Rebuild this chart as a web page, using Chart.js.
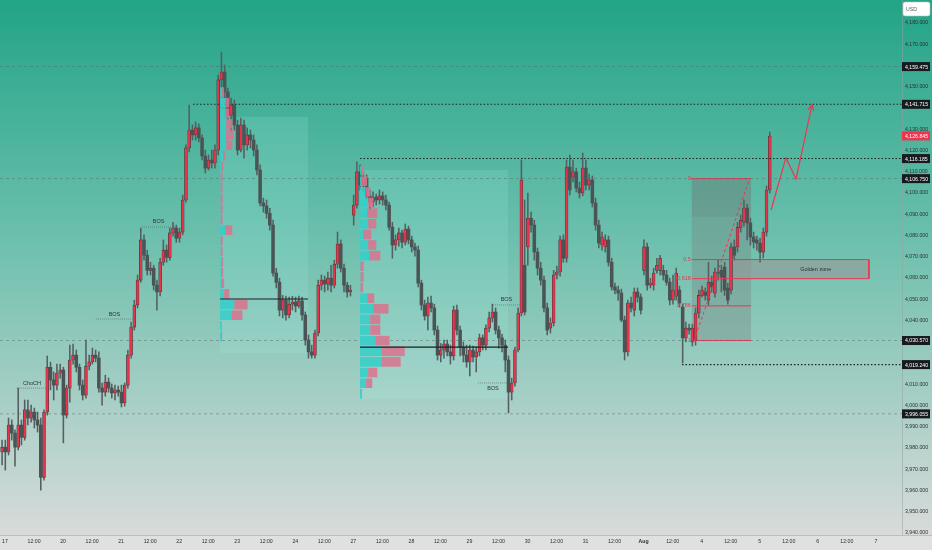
<!DOCTYPE html>
<html>
<head>
<meta charset="utf-8">
<script src="https://cdn.jsdelivr.net/npm/chart.js@4.4.1/dist/chart.umd.min.js"></script>
<style>
  html, body { margin: 0; padding: 0; background: #dcdede; }
  #wrap { width: 932px; height: 550px; }
</style>
</head>
<body>
<div id="wrap"><canvas id="chart" width="932" height="550"></canvas></div>
<script>
// ..........................................   DATA   ..........................................

// time axis: one tick every half day
const timeLabels = ['17', '12:00', '20', '12:00', '21', '12:00', '22', '12:00', '23', '12:00', '24', '12:00',
    '27', '12:00', '28', '12:00', '29', '12:00', '30', '12:00', '31', '12:00', 'Aug', '12:00',
    '4', '12:00', '5', '12:00', '6', '12:00', '7'];
const candleStart = -0.1;     // first candle, in half-day units
const candlesPerHalfDay = 9;

const opens = [3978.1,3980.4,3978.1,3990.8,3987.0,3980.4,3990.8,3985.0,3997.9,3994.1,3996.9,3993.2,3990.8,3966.2,3996.9,4018.0,4012.0,4009.6,4015.3,4016.7,
    3995.5,4008.2,4021.4,4023.7,4018.0,4009.6,4004.9,4018.5,4020.5,4023.7,4022.3,4008.2,4006.3,4011.0,4008.2,4005.9,4007.3,4006.3,4001.2,4009.6,
    4023.7,4036.9,4047.3,4059.0,4077.9,4070.7,4063.6,4064.6,4056.6,4053.4,4067.4,4073.1,4069.7,4081.2,4083.5,4078.7,4081.6,4096.7,4121.2,4129.6,
    4127.3,4130.6,4125.9,4117.4,4111.7,4115.5,4114.1,4120.2,4153.2,4156.9,4147.5,4136.7,4141.4,4132.0,4120.2,4132.0,4122.6,4127.3,4124.9,4120.2,
    4110.8,4095.3,4093.9,4090.4,4084.9,4062.3,4058.0,4044.9,4049.6,4042.6,4047.7,4048.7,4046.8,4049.2,4042.6,4030.8,4025.2,4023.7,4034.1,4056.6,
    4059.0,4057.1,4059.9,4056.6,4066.5,4076.0,4064.6,4056.6,4053.4,4089.6,4094.3,4109.9,4103.7,4107.0,4098.6,4095.7,4098.1,4096.7,4098.6,4096.7,
    4094.3,4083.9,4075.5,4077.9,4081.2,4076.8,4083.0,4077.9,4074.6,4073.1,4057.6,4047.3,4042.1,4048.2,4045.9,4035.5,4023.7,4026.1,4028.9,4025.2,
    4023.3,4044.9,4035.5,4027.5,4023.7,4020.5,4026.1,4022.8,4025.2,4031.8,4028.4,4036.4,4041.2,4044.0,4035.5,4031.8,4028.4,4021.4,4006.3,4010.6,
    4026.1,4043.5,4066.0,4074.6,4088.1,4084.9,4072.2,4064.6,4059.0,4045.9,4036.4,4038.8,4061.4,4062.8,4077.9,4069.3,4112.2,4107.5,4109.9,4102.3,
    4100.0,4111.7,4103.7,4106.1,4095.3,4084.9,4075.5,4074.6,4077.9,4067.4,4055.8,4054.3,4052.9,4040.2,4025.2,4048.2,4044.9,4053.4,4051.0,4063.6,
    4074.6,4056.6,4056.6,4063.6,4063.6,4063.6,4061.4,4058.0,4049.6,4051.4,4054.3,4046.3,4031.8,4036.4,4029.9,4030.8,4043.5,4051.8,4053.4,4049.6,
    4058.0,4052.9,4062.8,4063.6,4065.1,4055.3,4054.3,4074.6,4074.6,4083.5,4086.3,4092.9,4085.9,4079.3,4077.9,4076.4,4072.2,4081.6,4101.4];
const highs = [3983.7,3983.7,3994.1,3993.2,3988.5,4008.2,3993.2,4002.6,4002.6,4000.2,3998.8,3996.9,3994.1,3997.9,4023.3,4020.4,4015.8,4019.5,4019.5,4018.0,
    4009.6,4028.4,4028.9,4026.1,4019.5,4012.0,4030.8,4023.7,4027.0,4026.1,4025.2,4010.6,4014.3,4012.9,4010.1,4009.6,4009.1,4009.6,4010.6,4026.1,
    4039.3,4049.6,4061.4,4083.5,4080.3,4073.1,4067.4,4066.0,4059.0,4069.3,4077.9,4075.5,4083.5,4086.2,4084.9,4083.5,4099.0,4122.6,4141.4,4132.0,
    4133.4,4132.5,4127.3,4120.2,4117.9,4120.2,4122.6,4155.5,4166.3,4160.2,4149.4,4144.7,4143.7,4134.3,4135.2,4134.3,4130.6,4129.6,4127.3,4122.6,
    4113.2,4097.6,4096.7,4092.8,4087.2,4064.6,4059.9,4051.8,4051.5,4051.0,4051.4,4051.0,4051.5,4051.0,4044.0,4033.2,4028.4,4035.5,4059.0,4061.4,
    4060.9,4062.8,4066.0,4068.4,4081.6,4077.9,4066.5,4058.0,4056.6,4099.0,4114.6,4113.2,4109.9,4108.5,4101.4,4100.5,4099.5,4101.4,4100.5,4099.0,
    4095.7,4086.2,4080.3,4083.5,4082.5,4085.4,4084.4,4079.7,4076.4,4075.0,4059.0,4049.6,4051.0,4051.5,4047.7,4037.4,4029.2,4030.8,4030.8,4028.4,
    4046.8,4047.3,4037.4,4029.9,4028.4,4028.4,4028.0,4027.5,4033.6,4033.2,4037.9,4044.0,4047.7,4045.9,4037.4,4033.6,4030.8,4023.3,4012.9,4027.5,
    4045.9,4115.5,4096.7,4100.0,4091.0,4087.2,4074.1,4067.4,4060.9,4048.2,4041.2,4063.6,4065.6,4079.7,4080.3,4115.5,4117.9,4115.5,4111.7,4105.2,
    4118.8,4115.5,4108.9,4108.0,4097.6,4087.2,4081.6,4080.3,4079.7,4069.3,4057.6,4056.2,4054.8,4042.1,4049.6,4051.0,4055.3,4055.3,4052.5,4077.9,
    4076.4,4059.9,4064.6,4069.3,4070.7,4066.0,4063.6,4059.9,4061.4,4064.6,4056.2,4047.7,4039.3,4038.3,4038.3,4045.9,4054.3,4056.2,4055.3,4067.4,
    4060.9,4064.6,4068.4,4066.0,4067.4,4057.6,4076.4,4077.9,4086.2,4089.6,4096.7,4094.8,4088.2,4081.6,4079.7,4078.8,4083.5,4103.3,4128.7];
const lows = [3972.0,3969.6,3976.7,3983.7,3971.5,3979.1,3981.4,3983.7,3990.8,3992.2,3989.4,3987.5,3960.2,3964.9,3995.5,4007.3,4002.6,4007.3,4012.9,3982.4,
    3994.1,4001.6,4019.5,4015.8,4007.3,4002.6,4003.5,4016.7,4019.5,4020.5,4006.3,4000.2,4004.4,4006.3,4003.5,4002.6,4004.4,3999.3,3999.7,4008.2,
    4022.3,4035.5,4045.9,4058.0,4068.4,4061.4,4061.4,4054.3,4044.9,4051.5,4066.0,4067.4,4068.4,4079.7,4076.8,4076.8,4080.3,4095.7,4119.3,4124.9,
    4124.9,4124.0,4115.5,4109.4,4110.8,4111.7,4111.7,4117.9,4147.5,4144.7,4134.3,4128.7,4129.6,4117.9,4119.3,4116.4,4120.2,4121.2,4117.4,4108.5,
    4093.9,4091.0,4088.1,4082.5,4060.9,4055.3,4042.1,4041.2,4040.2,4041.2,4044.9,4044.0,4045.9,4040.2,4028.4,4022.3,4022.3,4022.3,4032.7,4054.3,
    4053.4,4054.3,4053.4,4055.3,4064.6,4062.8,4053.4,4051.0,4051.5,4084.9,4092.8,4101.4,4100.5,4096.7,4092.0,4093.4,4094.3,4094.8,4094.3,4092.0,
    4082.5,4069.3,4073.1,4075.0,4074.1,4075.5,4076.0,4072.2,4070.3,4055.8,4044.9,4040.2,4035.5,4044.0,4033.2,4021.4,4020.5,4022.3,4023.3,4019.5,
    4021.4,4033.2,4023.3,4020.5,4018.0,4013.9,4020.5,4015.8,4023.3,4026.1,4026.1,4034.6,4039.3,4033.6,4027.0,4025.2,4015.8,3996.5,4002.6,4009.1,
    4025.2,4042.1,4042.6,4066.0,4081.6,4068.4,4061.4,4056.6,4044.0,4033.2,4034.1,4037.4,4059.5,4060.9,4067.4,4067.4,4099.0,4105.2,4100.5,4097.6,
    4098.6,4101.4,4101.4,4093.4,4082.5,4074.1,4073.1,4072.2,4065.6,4054.3,4052.5,4049.6,4039.4,4021.4,4023.3,4044.0,4042.1,4048.7,4043.0,4061.4,
    4054.3,4055.3,4054.3,4062.3,4061.4,4059.0,4056.6,4047.3,4047.7,4049.6,4046.3,4020.0,4029.9,4033.6,4028.0,4028.4,4041.2,4051.0,4049.6,4047.3,
    4053.4,4051.0,4059.0,4053.4,4051.8,4047.7,4052.5,4068.4,4072.2,4081.6,4084.4,4077.9,4075.5,4074.1,4073.1,4067.4,4069.4,4079.7,4100.0];
const closes = [3980.4,3978.1,3990.8,3987.0,3980.4,3990.8,3985.0,3997.9,3994.1,3996.9,3993.2,3990.8,3966.2,3996.9,4018.0,4012.0,4009.6,4015.3,4016.7,3995.5,
    4008.2,4021.4,4023.7,4018.0,4009.6,4004.9,4018.5,4020.5,4023.7,4022.3,4008.2,4006.3,4011.0,4008.2,4005.9,4007.3,4006.3,4001.2,4009.6,4023.7,
    4036.9,4047.3,4059.0,4077.9,4070.7,4063.6,4064.6,4056.6,4053.4,4067.4,4073.1,4069.7,4081.2,4083.5,4078.7,4081.6,4096.7,4121.2,4129.6,4127.3,
    4130.6,4125.9,4117.4,4111.7,4115.5,4114.1,4120.2,4153.2,4156.9,4147.5,4136.7,4141.4,4132.0,4120.2,4132.0,4122.6,4127.3,4124.9,4120.2,4110.8,
    4095.3,4093.9,4090.4,4084.9,4062.3,4058.0,4044.9,4049.6,4042.6,4047.7,4048.7,4046.8,4049.2,4042.6,4030.8,4025.2,4023.7,4034.1,4056.6,4059.0,
    4057.1,4059.9,4056.6,4066.5,4076.0,4064.6,4056.6,4053.4,4054.3,4094.3,4109.9,4103.7,4107.0,4098.6,4095.7,4098.1,4096.7,4098.6,4096.7,4094.3,
    4083.9,4075.5,4077.9,4081.2,4076.8,4083.0,4077.9,4074.6,4073.1,4057.6,4047.3,4042.1,4048.2,4045.9,4035.5,4023.7,4026.1,4028.9,4025.2,4023.3,
    4044.9,4035.5,4027.5,4023.7,4020.5,4026.1,4022.8,4025.2,4031.8,4028.4,4036.4,4041.2,4044.0,4035.5,4031.8,4028.4,4021.4,4006.3,4010.6,4026.1,
    4043.5,4106.1,4044.0,4088.1,4084.9,4072.2,4064.6,4059.0,4045.9,4035.5,4038.8,4061.4,4062.8,4077.9,4069.3,4112.2,4101.4,4109.9,4102.3,4100.0,
    4111.7,4103.7,4106.1,4095.3,4084.9,4076.4,4079.3,4077.9,4067.4,4055.8,4054.3,4052.9,4040.2,4025.2,4048.2,4045.9,4053.4,4051.0,4044.9,4074.6,
    4056.6,4057.6,4062.3,4066.0,4069.3,4061.4,4058.0,4049.6,4054.3,4062.3,4048.2,4031.8,4036.4,4035.5,4036.4,4043.5,4051.8,4054.3,4051.8,4058.0,
    4055.8,4062.8,4062.3,4060.4,4054.3,4049.6,4074.6,4070.7,4083.9,4087.2,4092.9,4085.9,4079.3,4076.9,4076.4,4072.2,4081.6,4101.4,4126.8];

// price scale
const priceTicks = [4180, 4170, 4150, 4130, 4120, 4110, 4100, 4090, 4080, 4070, 4060, 4050, 4040,
    4010, 4000, 3990, 3980, 3970, 3960, 3950, 3940];
const markedPrices = [4159.475, 4141.715, 4116.185, 4106.750, 4030.570, 4019.240, 3996.055];
const lastPrice = 4126.845;

// horizontal levels
const dashedLevels = [4159.475, 4106.75, 4030.57, 3996.055];
const dottedLevels = [4141.715, 4116.185, 4019.24];
const dottedStarts = [6.48, 12.23, 23.32];

// structure labels (BOS / ChoCH)
const structTexts = ['ChoCH', 'BOS', 'BOS', 'BOS', 'BOS'];
const structPrices = [4008.2, 4040.7, 4084.0, 4047.3, 4010.6];
const structFrom = [0.41, 3.13, 4.72, 16.81, 16.29];
const structTo = [1.45, 4.41, 5.86, 17.74, 17.33];
const structBelow = [false, false, false, false, true];

// volume profiles
const volumeScale = 0.035;   // half-days per volume unit
const profile1Low = 4030, profile1Step = 5;
const profile1Up   = [1, 1, 11, 14, 4, 1, 1, 1, 0.5, 0.5, 5, 0.5, 0.5, 0.5, 0.5, 0.5, 1, 3, 6, 6, 6, 5, 5, 2];
const profile1Down = [1, 0.5, 11, 13, 5, 3, 2, 2, 2, 2, 7, 2, 2, 2, 2, 2, 2, 2, 6, 7, 6, 4, 4, 2];
const profile1Span = [7.41, 10.44];
const profile1Box = [4024.7, 4135.8];
const profile1Poc = 4050.1;
const profile2Low = 4003, profile2Step = 5;
const profile2Up   = [2, 6, 8, 21, 21, 15, 10, 10, 13, 7, 0.5, 0.5, 0.5, 9, 8, 3, 8, 7, 8, 5, 2, 1];
const profile2Down = [0, 6, 9, 19, 23, 14, 10, 10, 15, 7, 2.5, 3, 3, 11, 8, 8, 8, 10, 5, 5, 5, 3];
const profile2Span = [12.23, 17.33];
const profile2Box = [4003.0, 4110.8];
const profile2Poc = 4027.5;

// fibonacci retracement
const fibLevels = [0, 0.5, 0.618, 0.786, 1];
const fibHigh = 4106.75, fibLow = 4030.57;
const fibSpan = [23.66, 25.70];
const goldenSpan = [25.04, 29.76];

// projected path
const projX = [26.39, 26.90, 27.25, 27.80];
const projY = [4092.0, 4116.5, 4106.6, 4141.4];

// ..........................................   CHART   ..........................................

const X_MIN = -0.172, X_MAX = 30.9;
const candleX = opens.map((o, i) => candleStart + i / candlesPerHalfDay);
const fibPrice = l => fibHigh - l * (fibHigh - fibLow);
const fmt = v => v.toLocaleString('en-US', { minimumFractionDigits: 3, maximumFractionDigits: 3 });
const RED = '#ef3450';
const SMALL = "'Liberation Sans', Arial, sans-serif";

function hLine(y, x0, x1, color, dash, width) {
    return {
        type: 'line', data: [{ x: x0, y: y }, { x: x1, y: y }],
        borderColor: color, borderDash: dash, borderWidth: width,
        pointRadius: 0, order: 0
    };
}

const lineSets = [];
dashedLevels.forEach(v => lineSets.push(hLine(v, X_MIN, X_MAX, 'rgba(85,100,100,0.55)', [3, 3], 0.8)));
dottedLevels.forEach((v, i) => lineSets.push(hLine(v, dottedStarts[i], X_MAX, '#1d2323', [1.5, 2], 1.1)));
structPrices.forEach((v, i) => lineSets.push(hLine(v, structFrom[i], structTo[i], 'rgba(70,80,80,0.7)', [1, 1], 0.7)));
fibLevels.forEach(l => lineSets.push(hLine(fibPrice(l), fibSpan[0], fibSpan[1], RED, [], 1)));
// golden zone borders
lineSets.push(hLine(fibPrice(0.5), fibSpan[1], goldenSpan[1], RED, [], 1));
lineSets.push(hLine(fibPrice(0.618), fibSpan[1], goldenSpan[1], RED, [], 1));
lineSets.push({
    type: 'line', data: [{ x: goldenSpan[1], y: fibPrice(0.5) }, { x: goldenSpan[1], y: fibPrice(0.618) }],
    borderColor: RED, borderWidth: 1, pointRadius: 0, order: 0
});
// fib trend line
lineSets.push({
    type: 'line', data: [{ x: fibSpan[0] + 0.08, y: fibLow }, { x: fibSpan[1] - 0.05, y: fibHigh }],
    borderColor: RED, borderDash: [3, 2.5], borderWidth: 1, pointRadius: 0, order: 0
});
// projection
lineSets.push({
    type: 'line', data: projX.map((x, i) => ({ x: x, y: projY[i] })),
    borderColor: RED, borderWidth: 1.2, pointRadius: 0, order: 0
});

const backdrop = {
    id: 'backdrop',
    beforeDraw(chart) {
        const ctx = chart.ctx, h = chart.chartArea.bottom;
        const g = ctx.createLinearGradient(0, 0, 0, h);
        g.addColorStop(0, '#22a487');
        g.addColorStop(0.45, '#6dc0ad');
        g.addColorStop(1, '#d8dbda');
        ctx.save();
        ctx.fillStyle = g;
        ctx.fillRect(0, 0, chart.width, h);
        ctx.fillStyle = '#dfe1e0';
        ctx.fillRect(0, h, chart.width, chart.height - h);
        ctx.fillStyle = 'rgba(150,160,160,0.5)';
        ctx.fillRect(0, h, chart.width, 1);
        ctx.fillRect(chart.chartArea.right, 0, 1, h);
        ctx.restore();
    }
};

function drawProfileBox(ctx, xs, ys, span, box) {
    const left = xs.getPixelForValue(span[0]);
    const bt = ys.getPixelForValue(box[1]), bb = ys.getPixelForValue(box[0]);
    ctx.fillStyle = 'rgba(170,240,235,0.16)';
    ctx.fillRect(left, bt, xs.getPixelForValue(span[1]) - left, bb - bt);
}

function drawProfileRows(ctx, xs, ys, low, step, up, down, span, poc) {
    const left = xs.getPixelForValue(span[0]);
    up.forEach((u, k) => {
        const yt = ys.getPixelForValue(low + (k + 1) * step);
        const yb = ys.getPixelForValue(low + k * step);
        const x1 = xs.getPixelForValue(span[0] + u * volumeScale);
        const x2 = xs.getPixelForValue(span[0] + (u + down[k]) * volumeScale);
        ctx.fillStyle = 'rgba(52,206,200,0.88)';
        ctx.fillRect(left, yt + 0.5, x1 - left, yb - yt - 1);
        ctx.fillStyle = 'rgba(216,116,142,0.88)';
        ctx.fillRect(x1, yt + 0.5, x2 - x1, yb - yt - 1);
    });
    // point of control
    const py = ys.getPixelForValue(poc);
    ctx.strokeStyle = '#1a1f1f';
    ctx.lineWidth = 1.2;
    ctx.beginPath();
    ctx.moveTo(left, py);
    ctx.lineTo(xs.getPixelForValue(span[1]), py);
    ctx.stroke();
}

const overlays = {
    id: 'overlays',
    beforeDatasetsDraw(chart) {
        const ctx = chart.ctx, xs = chart.scales.x, ys = chart.scales.y;
        ctx.save();
        drawProfileBox(ctx, xs, ys, profile1Span, profile1Box);
        drawProfileBox(ctx, xs, ys, profile2Span, profile2Box);
        // fib box
        const fx0 = xs.getPixelForValue(fibSpan[0]), fx1 = xs.getPixelForValue(fibSpan[1]);
        const ft = ys.getPixelForValue(fibHigh), fb = ys.getPixelForValue(fibLow);
        ctx.fillStyle = 'rgba(120,125,125,0.33)';
        ctx.fillRect(fx0, ft, fx1 - fx0, fb - ft);
        ctx.fillStyle = 'rgba(90,95,95,0.12)';
        ctx.fillRect(fx0, ft, fx1 - fx0, ys.getPixelForValue(fibPrice(0.236)) - ft);
        // golden zone
        const gx0 = xs.getPixelForValue(goldenSpan[0]), gx1 = xs.getPixelForValue(goldenSpan[1]);
        const gt = ys.getPixelForValue(fibPrice(0.5)), gb = ys.getPixelForValue(fibPrice(0.618));
        ctx.fillStyle = 'rgba(150,152,152,0.6)';
        ctx.fillRect(gx0, gt, gx1 - gx0, gb - gt);
        ctx.restore();
    },
    afterDatasetsDraw(chart) {
        const ctx = chart.ctx, xs = chart.scales.x, ys = chart.scales.y;
        ctx.save();
        drawProfileRows(ctx, xs, ys, profile1Low, profile1Step, profile1Up, profile1Down, profile1Span, profile1Poc);
        drawProfileRows(ctx, xs, ys, profile2Low, profile2Step, profile2Up, profile2Down, profile2Span, profile2Poc);
        // golden zone text
        ctx.font = '5.5px ' + SMALL;
        ctx.fillStyle = '#2a2f2f';
        ctx.textAlign = 'center';
        ctx.textBaseline = 'middle';
        ctx.fillText('Golden zone', xs.getPixelForValue((fibSpan[1] + goldenSpan[1]) / 2 + 0.2),
            ys.getPixelForValue((fibPrice(0.5) + fibPrice(0.618)) / 2));
        // fib level labels
        ctx.fillStyle = RED;
        ctx.textAlign = 'right';
        fibLevels.forEach(l => ctx.fillText(String(l), xs.getPixelForValue(fibSpan[0]) - 1, ys.getPixelForValue(fibPrice(l))));
        // structure labels
        ctx.fillStyle = '#2f3535';
        ctx.textAlign = 'center';
        structTexts.forEach((t, i) => {
            const x = xs.getPixelForValue((structFrom[i] + structTo[i]) / 2);
            const y = ys.getPixelForValue(structPrices[i]);
            ctx.fillText(t, x, structBelow[i] ? y + 6 : y - 5);
        });
        // arrow head on projection
        const n = projX.length;
        const ax = xs.getPixelForValue(projX[n - 1]), ay = ys.getPixelForValue(projY[n - 1]);
        const bx = xs.getPixelForValue(projX[n - 2]), by = ys.getPixelForValue(projY[n - 2]);
        const ang = Math.atan2(ay - by, ax - bx);
        ctx.strokeStyle = RED;
        ctx.lineWidth = 1.2;
        ctx.beginPath();
        ctx.moveTo(ax - 6 * Math.cos(ang - 0.5), ay - 6 * Math.sin(ang - 0.5));
        ctx.lineTo(ax, ay);
        ctx.lineTo(ax - 6 * Math.cos(ang + 0.5), ay - 6 * Math.sin(ang + 0.5));
        ctx.stroke();
        ctx.restore();
    },
    afterDraw(chart) {
        const ctx = chart.ctx, ys = chart.scales.y, right = chart.chartArea.right;
        ctx.save();
        ctx.font = '5.2px ' + SMALL;
        ctx.textBaseline = 'middle';
        ctx.textAlign = 'left';
        const tag = (v, bg) => {
            const y = ys.getPixelForValue(v);
            ctx.fillStyle = bg;
            ctx.fillRect(right, y - 4.5, chart.width - right - 2, 9);
            ctx.fillStyle = '#ffffff';
            ctx.fillText(fmt(v), right + 3, y + 0.5);
        };
        markedPrices.forEach(v => tag(v, '#171b1f'));
        tag(lastPrice, RED);
        // currency box
        ctx.fillStyle = '#ffffff';
        ctx.strokeStyle = '#b9bfbf';
        ctx.lineWidth = 0.6;
        ctx.beginPath();
        ctx.roundRect(right + 1, 2, chart.width - right - 3, 14, 2);
        ctx.fill();
        ctx.stroke();
        ctx.fillStyle = '#555c5c';
        ctx.fillText('USD', right + 4, 9.5);
        ctx.restore();
    }
};

new Chart(document.getElementById('chart'), {
    type: 'bar',
    data: {
        datasets: [
            ...lineSets,
            {
                label: 'bodies',
                data: candleX.map((x, i) => ({ x: x, y: [opens[i], closes[i]] })),
                backgroundColor: c => closes[c.dataIndex] >= opens[c.dataIndex] ? '#e8334b' : '#4b5455',
                borderColor: '#353c3c',
                borderWidth: c => closes[c.dataIndex] >= opens[c.dataIndex] ? 0.6 : 0,
                borderSkipped: false,
                barThickness: 2.9,
                grouped: false,
                order: 1
            },
            {
                label: 'wicks',
                data: candleX.map((x, i) => ({ x: x, y: [lows[i], highs[i]] })),
                backgroundColor: '#555e60',
                barThickness: 0.9,
                grouped: false,
                order: 2
            }
        ]
    },
    options: {
        responsive: false,
        animation: false,
        events: [],
        layout: { padding: 0 },
        plugins: { legend: { display: false }, tooltip: { enabled: false } },
        scales: {
            x: {
                type: 'linear',
                min: X_MIN,
                max: X_MAX,
                offset: false,
                grid: { display: false, drawTicks: false, tickLength: 0 },
                border: { display: false },
                afterBuildTicks: s => { s.ticks = timeLabels.map((l, i) => ({ value: i })); },
                afterFit: s => { s.height = 15; s.paddingLeft = 0; s.paddingRight = 0; },
                ticks: {
                    autoSkip: false,
                    maxRotation: 0,
                    padding: 3,
                    color: '#2b3030',
                    font: c => ({ family: SMALL, size: 5.2, weight: timeLabels[c.index] === 'Aug' ? 'bold' : 'normal' }),
                    callback: v => timeLabels[v]
                }
            },
            y: {
                position: 'right',
                min: 3939.06,
                max: 4190.8,
                grid: { display: false, drawTicks: false, tickLength: 0 },
                border: { display: false },
                afterBuildTicks: s => { s.ticks = priceTicks.map(v => ({ value: v })); },
                afterFit: s => { s.width = 30; s.paddingTop = 0; s.paddingBottom = 0; },
                ticks: {
                    padding: 3,
                    color: '#2b3030',
                    font: { family: SMALL, size: 5.2 },
                    callback: v => fmt(v)
                }
            }
        }
    },
    plugins: [backdrop, overlays]
});
</script>
</body>
</html>
